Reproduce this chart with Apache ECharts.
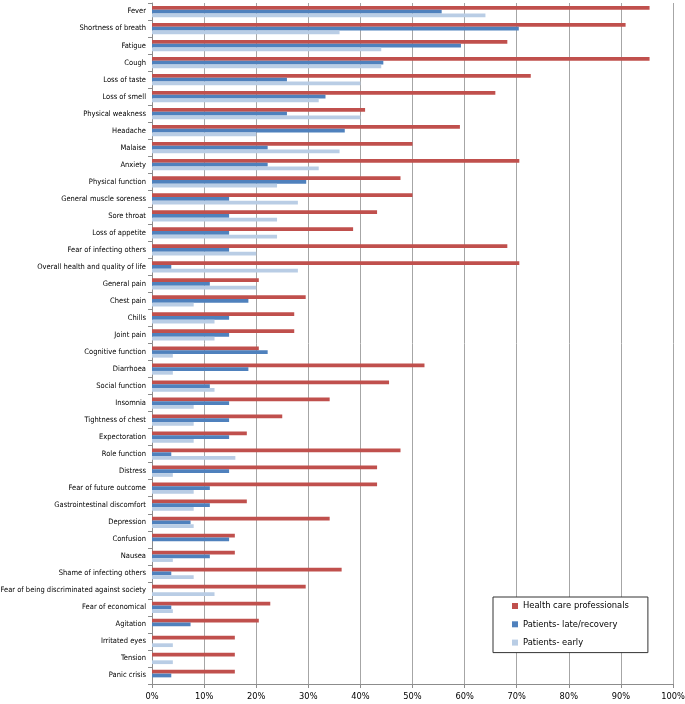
<!DOCTYPE html>
<html>
<head>
<meta charset="utf-8">
<script src="https://cdn.jsdelivr.net/npm/echarts@6/dist/echarts.min.js"></script>
<style>
html,body{margin:0;padding:0;background:#fff;}
#chart{width:685px;height:704px;}
</style>
</head>
<body>
<div id="chart"></div>
<script>
var categories = ["Fever","Shortness of breath","Fatigue","Cough","Loss of taste","Loss of smell","Physical weakness","Headache","Malaise","Anxiety","Physical function","General muscle soreness","Sore throat","Loss of appetite","Fear of infecting others","Overall health and quality of life","General pain","Chest pain","Chills","Joint pain","Cognitive function","Diarrhoea","Social function","Insomnia","Tightness of chest","Expectoration","Role function","Distress","Fear of future outcome","Gastrointestinal discomfort","Depression","Confusion","Nausea","Shame of infecting others","Fear of being discriminated against society","Fear of economical","Agitation","Irritated eyes","Tension","Panic crisis"];
var healthCare = [95.5,90.9,68.2,95.5,72.7,65.9,40.9,59.1,50.0,70.5,47.7,50.0,43.2,38.6,68.2,70.5,20.5,29.5,27.3,27.3,20.5,52.3,45.5,34.1,25.0,18.2,47.7,43.2,43.2,18.2,34.1,15.9,15.9,36.4,29.5,22.7,20.5,15.9,15.9,15.9];
var patientsLate = [55.6,70.4,59.3,44.4,25.9,33.3,25.9,37.0,22.2,22.2,29.6,14.8,14.8,14.8,14.8,3.7,11.1,18.5,14.8,14.8,22.2,18.5,11.1,14.8,14.8,14.8,3.7,14.8,11.1,11.1,7.4,14.8,11.1,3.7,0,3.7,7.4,0,0,3.7];
var patientsEarly = [64,36,44,44,40,32,40,20,36,32,24,28,24,24,20,28,20,8,12,12,4,4,12,8,8,8,16,4,8,8,8,0,4,8,12,4,0,4,4,0];
var seriesNames = ["Health care professionals","Patients- late/recovery","Patients- early"];

// pick a narrow font that is installed
var cv = document.createElement('canvas').getContext('2d');
function installed(f){
  var s='abcdefghijklmnopqrstuvwxyz ABCDEFGHIJ 0123456789%';
  var ok=false;
  ['monospace','serif'].forEach(function(fb){
    cv.font='40px '+fb; var w0=cv.measureText(s).width;
    cv.font='40px "'+f+'", '+fb; var w1=cv.measureText(s).width;
    if(Math.abs(w0-w1)>0.5) ok=true;
  });
  return ok;
}
var fontName = 'Liberation Sans';
['Liberation Sans Narrow','Arial Narrow','DejaVu Sans Condensed','Lato'].some(function(f){
  if(installed(f)){fontName=f;return true;} return false;
});
var font = "'"+fontName+"', 'Liberation Sans', sans-serif";
function fitSize(text,target,maxSize){
  cv.font='100px '+font; var w=cv.measureText(text).width;
  return Math.min(maxSize, Math.round(target/w*100*10)/10);
}
var catSize = fitSize('Fear of being discriminated against society',145,10);
var legSize = fitSize('Health care professionals',106,11);
var axSize = fitSize('10%',18.3,10);

var chart = echarts.init(document.getElementById('chart'));
var colors = ['#C0504D','#4F81BD','#B9CDE5'];
var data = [healthCare, patientsLate, patientsEarly];
chart.setOption({
  animation:false,
  grid:{left:152,right:12,top:3,bottom:20,containLabel:false,outerBoundsMode:'none'},
  legend:{
    orient:'vertical',left:493,top:597,
    data:seriesNames,
    icon:'rect',itemWidth:6,itemHeight:6,itemGap:7.3,
    padding:[3.5,19,4.5,19],
    borderColor:'#333',borderWidth:1,backgroundColor:'#fff',
    textStyle:{fontFamily:font,fontSize:legSize,color:'#000',lineHeight:11}
  },
  xAxis:{
    type:'value',min:0,max:100,interval:10,
    axisLine:{show:true,lineStyle:{color:'#8c8c8c'}},
    axisTick:{show:true,length:4,lineStyle:{color:'#8c8c8c'}},
    splitLine:{show:true,lineStyle:{color:'#a6a6a6',width:1}},
    axisLabel:{formatter:function(v){return v+'%';},fontFamily:font,fontSize:axSize,color:'#000',margin:8}
  },
  yAxis:{
    type:'category',inverse:true,data:categories,
    axisLine:{show:true,lineStyle:{color:'#8c8c8c'}},
    axisTick:{show:true,length:4,lineStyle:{color:'#8c8c8c'}},
    axisLabel:{fontFamily:font,fontSize:catSize,color:'#000',margin:6,interval:0}
  },
  series:seriesNames.map(function(n,i){
    return {name:n,type:'bar',data:data[i],itemStyle:{color:colors[i]},
      barGap:'0%',barCategoryGap:'34%'};
  })
});
</script>
</body>
</html>
